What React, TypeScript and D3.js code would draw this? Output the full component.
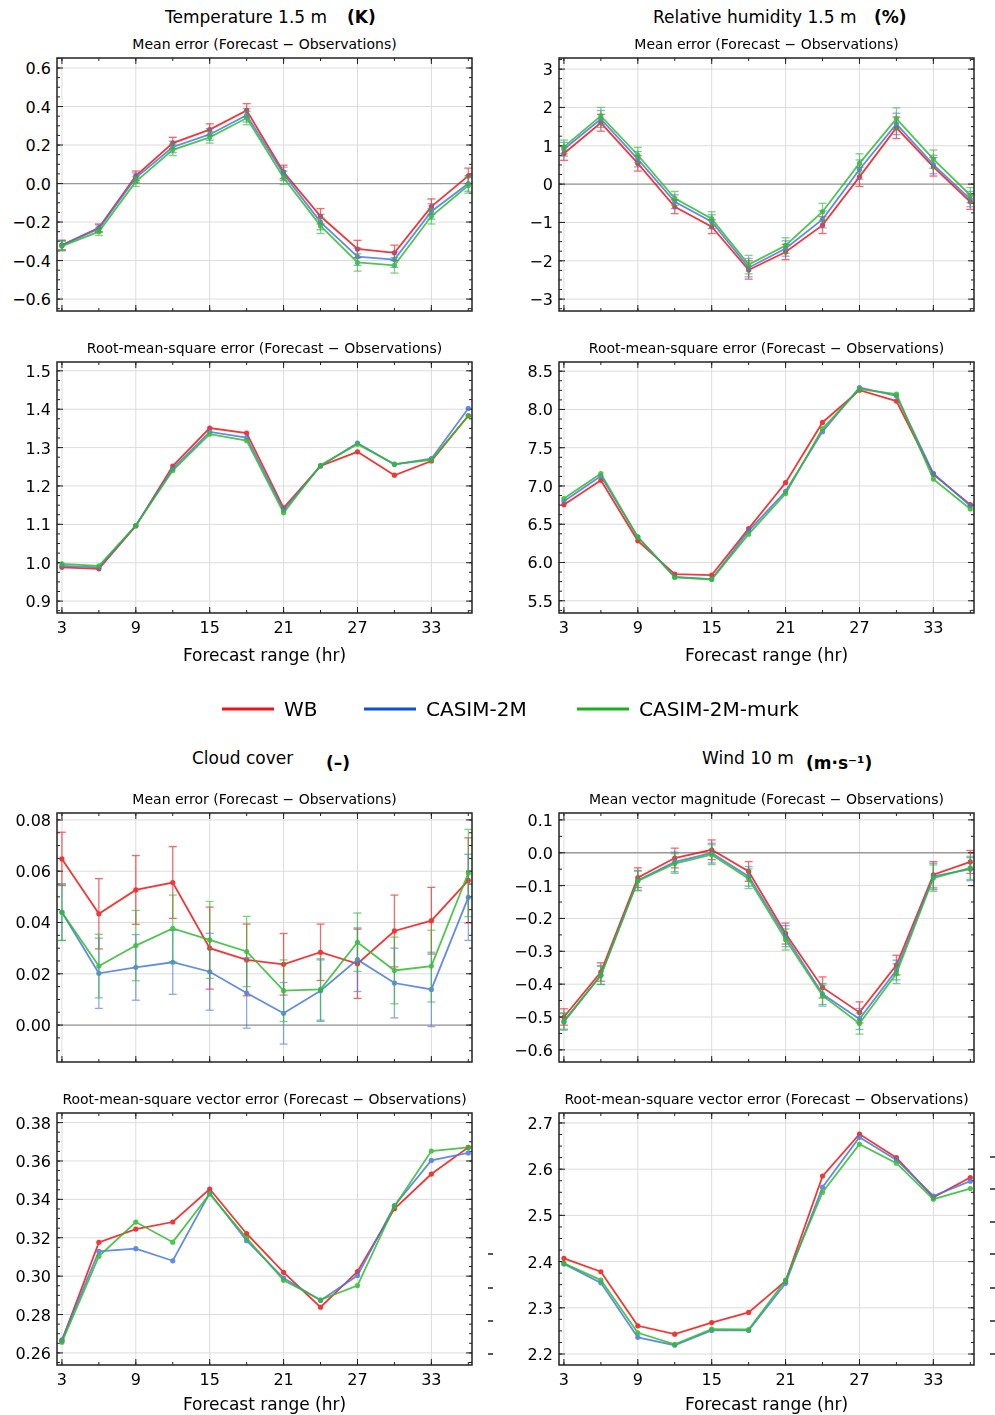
import * as d3 from "d3"

const hours = [3, 6, 9, 12, 15, 18, 21, 24, 27, 30, 33, 36]
const xTicks = [3, 9, 15, 21, 27, 33]
const seriesNames = ["WB", "CASIM-2M", "CASIM-2M-murk"]
const colors = ["#f01414", "#4878e0", "#30bb30"]
const legendColors = ["#f01414", "#0a50d8", "#18b018"]

// temperature mean error
const tMeWB = [-0.32, -0.23, 0.04, 0.21, 0.28, 0.38, 0.06, -0.17, -0.34, -0.36, -0.12, 0.04]
const tMeC = [-0.32, -0.235, 0.03, 0.19, 0.255, 0.355, 0.05, -0.2, -0.38, -0.395, -0.145, 0.0]
const tMeM = [-0.325, -0.25, 0.01, 0.175, 0.24, 0.34, 0.03, -0.22, -0.41, -0.425, -0.17, -0.01]
const tMeErr = [0.025, 0.02, 0.025, 0.03, 0.03, 0.035, 0.035, 0.04, 0.045, 0.04, 0.04, 0.04]

// relative humidity mean error
const rMeWB = [0.8, 1.6, 0.54, -0.59, -1.11, -2.24, -1.77, -1.07, 0.19, 1.47, 0.45, -0.46]
const rMeC = [0.91, 1.7, 0.65, -0.46, -0.98, -2.18, -1.68, -0.92, 0.38, 1.57, 0.51, -0.39]
const rMeM = [0.97, 1.78, 0.76, -0.37, -0.9, -2.1, -1.6, -0.72, 0.54, 1.71, 0.65, -0.29]
const rMeErr = [0.18, 0.22, 0.2, 0.18, 0.18, 0.24, 0.2, 0.22, 0.25, 0.28, 0.24, 0.2]

// temperature rmse
const tRmWB = [0.988, 0.984, 1.096, 1.252, 1.351, 1.338, 1.143, 1.252, 1.289, 1.228, 1.265, 1.383]
const tRmC = [0.992, 0.988, 1.097, 1.245, 1.341, 1.326, 1.137, 1.252, 1.312, 1.256, 1.271, 1.402]
const tRmM = [0.997, 0.992, 1.097, 1.24, 1.335, 1.318, 1.13, 1.254, 1.309, 1.257, 1.268, 1.383]

// relative humidity rmse
const rRmWB = [6.756, 7.074, 6.283, 5.848, 5.835, 6.443, 7.043, 7.83, 8.252, 8.109, 7.152, 6.756]
const rRmC = [6.8, 7.13, 6.335, 5.813, 5.783, 6.413, 6.93, 7.71, 8.287, 8.178, 7.165, 6.74]
const rRmM = [6.835, 7.163, 6.33, 5.804, 5.778, 6.37, 6.9, 7.75, 8.265, 8.2, 7.09, 6.7]

// cloud cover mean error
const cMeWB = [0.0648, 0.0434, 0.0527, 0.0556, 0.03, 0.0254, 0.0237, 0.0284, 0.0239, 0.0367, 0.0407, 0.0564]
const cMeC = [0.044, 0.0202, 0.0225, 0.0245, 0.0208, 0.0125, 0.0046, 0.0134, 0.0255, 0.0164, 0.0139, 0.0498]
const cMeM = [0.044, 0.023, 0.031, 0.0377, 0.0332, 0.0287, 0.0134, 0.0139, 0.0323, 0.0213, 0.023, 0.0593]
const cErrWB = [0.0104, 0.0137, 0.0134, 0.014, 0.016, 0.014, 0.012, 0.011, 0.0135, 0.014, 0.013, 0.0166]
const cErrC = [0.011, 0.0137, 0.0128, 0.0125, 0.015, 0.0137, 0.012, 0.012, 0.0124, 0.0136, 0.0145, 0.0168]
const cErrM = [0.011, 0.0124, 0.0137, 0.013, 0.015, 0.0137, 0.012, 0.012, 0.0114, 0.013, 0.014, 0.017]

// wind mean vector magnitude error
const wMeWB = [-0.5, -0.363, -0.076, -0.016, 0.009, -0.057, -0.246, -0.41, -0.486, -0.342, -0.067, -0.028]
const wMeC = [-0.515, -0.373, -0.084, -0.028, -0.001, -0.072, -0.254, -0.43, -0.506, -0.357, -0.072, -0.05]
const wMeM = [-0.512, -0.373, -0.086, -0.033, -0.006, -0.079, -0.264, -0.435, -0.52, -0.368, -0.077, -0.046]
const wMeErr = [0.025, 0.028, 0.03, 0.03, 0.03, 0.03, 0.032, 0.032, 0.032, 0.03, 0.04, 0.035]

// cloud cover rms vector error
const cRmWB = [0.2664, 0.3176, 0.3245, 0.3282, 0.3454, 0.3221, 0.302, 0.2838, 0.3024, 0.3351, 0.3532, 0.3671]
const cRmC = [0.2668, 0.3129, 0.3143, 0.308, 0.3433, 0.3185, 0.299, 0.2873, 0.3003, 0.3367, 0.3603, 0.3642]
const cRmM = [0.2656, 0.3103, 0.3282, 0.3177, 0.3428, 0.3198, 0.2978, 0.2877, 0.2951, 0.3363, 0.3652, 0.3671]

// wind rms vector error
const wRmWB = [2.407, 2.378, 2.261, 2.243, 2.268, 2.29, 2.358, 2.585, 2.676, 2.625, 2.539, 2.582]
const wRmC = [2.395, 2.354, 2.236, 2.219, 2.251, 2.251, 2.353, 2.561, 2.669, 2.62, 2.542, 2.574]
const wRmM = [2.396, 2.36, 2.246, 2.221, 2.254, 2.253, 2.36, 2.55, 2.654, 2.613, 2.535, 2.558]

const FONT = "DejaVu Sans, sans-serif"

interface PanelProps {
  left: number
  top: number
  width: number
  height: number
  yDomain: [number, number]
  yTicks: number[]
  minor: number
  decimals: number
  values: number[][]
  errors?: number[][]
  subtitle: string
  zeroLine?: boolean
  xLabels?: boolean
  labelOffset?: number
}

function Panel(p: PanelProps) {
  const x = d3.scaleLinear().domain([2.6, 36.3]).range([p.left, p.left + p.width])
  const y = d3.scaleLinear().domain(p.yDomain).range([p.top + p.height, p.top])
  const line = d3
    .line<number>()
    .x((_, i) => x(hours[i]))
    .y((d) => y(d))
  const r = p.left + p.width
  const b = p.top + p.height
  const minorY = d3.range(Math.ceil(p.yDomain[0] / p.minor) * p.minor, p.yDomain[1], p.minor)
  const minorX = d3.range(3, 36.5, 3)
  return (
    <g fontFamily={FONT}>
      <text x={p.left + p.width / 2} y={p.top - 9} textAnchor="middle" fontSize={14}>
        {p.subtitle}
      </text>
      {xTicks.map((t) => (
        <line key={"gx" + t} x1={x(t)} x2={x(t)} y1={p.top} y2={b} stroke="#dcdcdc" strokeWidth={1} />
      ))}
      {p.yTicks.map((t) => (
        <line key={"gy" + t} x1={p.left} x2={r} y1={y(t)} y2={y(t)} stroke="#dcdcdc" strokeWidth={1} />
      ))}
      {p.zeroLine && <line x1={p.left} x2={r} y1={y(0)} y2={y(0)} stroke="#999" strokeWidth={1.3} />}
      {minorY.map((t, i) => (
        <g key={"my" + i}>
          <line x1={p.left} x2={p.left + 3} y1={y(t)} y2={y(t)} stroke="#222" />
          <line x1={r} x2={r - 3} y1={y(t)} y2={y(t)} stroke="#222" />
        </g>
      ))}
      {minorX.map((t) => (
        <g key={"mx" + t}>
          <line x1={x(t)} x2={x(t)} y1={b} y2={b - 3} stroke="#222" />
          <line x1={x(t)} x2={x(t)} y1={p.top} y2={p.top + 3} stroke="#222" />
        </g>
      ))}
      {p.yTicks.map((t) => (
        <g key={"ty" + t}>
          <line x1={p.left} x2={p.left + 6} y1={y(t)} y2={y(t)} stroke="#222" />
          <line x1={r} x2={r - 6} y1={y(t)} y2={y(t)} stroke="#222" />
          <text x={p.left - 6} y={y(t) + 6} textAnchor="end" fontSize={16}>
            {t < 0 ? "\u2212" + Math.abs(t).toFixed(p.decimals) : t.toFixed(p.decimals)}
          </text>
        </g>
      ))}
      {xTicks.map((t) => (
        <g key={"tx" + t}>
          <line x1={x(t)} x2={x(t)} y1={b} y2={b - 6} stroke="#222" />
          <line x1={x(t)} x2={x(t)} y1={p.top} y2={p.top + 6} stroke="#222" />
          {p.xLabels && (
            <text x={x(t)} y={b + 20} textAnchor="middle" fontSize={16}>
              {t}
            </text>
          )}
        </g>
      ))}
      {p.xLabels && (
        <text x={p.left + p.width / 2} y={b + (p.labelOffset ?? 48)} textAnchor="middle" fontSize={17}>
          Forecast range (hr)
        </text>
      )}
      {p.values.map((vals, si) => (
        <g key={"s" + si} stroke={colors[si]} fill={colors[si]} opacity={0.85}>
          {p.errors &&
            vals.map((v, i) => {
              const e = p.errors![si][i]
              const cx = x(hours[i])
              return (
                <g key={i} strokeWidth={1.3} opacity={0.75}>
                  <line x1={cx} x2={cx} y1={y(v - e)} y2={y(v + e)} />
                  <line x1={cx - 4} x2={cx + 4} y1={y(v - e)} y2={y(v - e)} />
                  <line x1={cx - 4} x2={cx + 4} y1={y(v + e)} y2={y(v + e)} />
                </g>
              )
            })}
          <path d={line(vals) ?? ""} fill="none" strokeWidth={1.8} />
          {vals.map((v, i) => (
            <circle key={i} cx={x(hours[i])} cy={y(v)} r={2.6} stroke="none" />
          ))}
        </g>
      ))}
      <rect x={p.left} y={p.top} width={p.width} height={p.height} fill="none" stroke="#222" strokeWidth={1.5} />
    </g>
  )
}

function Title({ x, y, name, unit, ux, uy }: { x: number; y: number; name: string; unit: string; ux: number; uy: number }) {
  return (
    <g fontFamily={FONT} fontSize={17}>
      <text x={x} y={y}>{name}</text>
      <text x={ux} y={uy} fontWeight="bold">{unit}</text>
    </g>
  )
}

export default function App() {
  const L = 57
  const R = 559
  const W = 415
  const dashesL = [1254, 1288, 1321, 1354]
  const dashesR = [1157, 1189, 1222, 1254, 1288, 1321, 1354]
  return (
    <svg width={995} height={1415} style={{ position: "absolute", left: 0, top: 0, background: "#fff" }}>
      <Title x={165} y={23} name="Temperature 1.5 m" unit="(K)" ux={347} uy={23} />
      <Title x={653} y={23} name="Relative humidity 1.5 m" unit="(%)" ux={874} uy={23} />
      <Title x={192} y={764} name="Cloud cover" unit="(–)" ux={326} uy={769} />
      <Title x={702} y={764} name="Wind 10 m" unit="(m·s⁻¹)" ux={806} uy={769} />

      <Panel left={L} top={58} width={W} height={253} yDomain={[-0.662, 0.652]} yTicks={[-0.6, -0.4, -0.2, 0, 0.2, 0.4, 0.6]} minor={0.05} decimals={1}
        values={[tMeWB, tMeC, tMeM]} errors={[tMeErr, tMeErr, tMeErr]} subtitle="Mean error (Forecast − Observations)" zeroLine />
      <Panel left={R} top={58} width={W} height={253} yDomain={[-3.31, 3.29]} yTicks={[-3, -2, -1, 0, 1, 2, 3]} minor={0.25} decimals={0}
        values={[rMeWB, rMeC, rMeM]} errors={[rMeErr, rMeErr, rMeErr]} subtitle="Mean error (Forecast − Observations)" zeroLine />
      <Panel left={L} top={362} width={W} height={251} yDomain={[0.869, 1.523]} yTicks={[0.9, 1.0, 1.1, 1.2, 1.3, 1.4, 1.5]} minor={0.025} decimals={1}
        values={[tRmWB, tRmC, tRmM]} subtitle="Root-mean-square error (Forecast − Observations)" xLabels />
      <Panel left={R} top={362} width={W} height={251} yDomain={[5.34, 8.62]} yTicks={[5.5, 6, 6.5, 7, 7.5, 8, 8.5]} minor={0.125} decimals={1}
        values={[rRmWB, rRmC, rRmM]} subtitle="Root-mean-square error (Forecast − Observations)" xLabels />

      <g fontFamily={FONT} fontSize={20}>
        {seriesNames.map((n, i) => {
          const xs = [222, 364, 577][i]
          return (
            <g key={n}>
              <line x1={xs} x2={xs + 52} y1={709} y2={709} stroke={legendColors[i]} strokeWidth={3} />
              <text x={xs + 62} y={716}>{n}</text>
            </g>
          )
        })}
      </g>

      <Panel left={L} top={813} width={W} height={249} yDomain={[-0.0144, 0.0827]} yTicks={[0, 0.02, 0.04, 0.06, 0.08]} minor={0.005} decimals={2}
        values={[cMeWB, cMeC, cMeM]} errors={[cErrWB, cErrC, cErrM]} subtitle="Mean error (Forecast − Observations)" zeroLine />
      <Panel left={R} top={813} width={W} height={249} yDomain={[-0.637, 0.121]} yTicks={[-0.6, -0.5, -0.4, -0.3, -0.2, -0.1, 0, 0.1]} minor={0.05} decimals={1}
        values={[wMeWB, wMeC, wMeM]} errors={[wMeErr, wMeErr, wMeErr]} subtitle="Mean vector magnitude (Forecast − Observations)" zeroLine />
      <Panel left={L} top={1113} width={W} height={252} yDomain={[0.2537, 0.385]} yTicks={[0.26, 0.28, 0.3, 0.32, 0.34, 0.36, 0.38]} minor={0.005} decimals={2}
        values={[cRmWB, cRmC, cRmM]} subtitle="Root-mean-square vector error (Forecast − Observations)" xLabels labelOffset={45} />
      <Panel left={R} top={1113} width={W} height={252} yDomain={[2.1762, 2.7216]} yTicks={[2.2, 2.3, 2.4, 2.5, 2.6, 2.7]} minor={0.025} decimals={1}
        values={[wRmWB, wRmC, wRmM]} subtitle="Root-mean-square vector error (Forecast − Observations)" xLabels labelOffset={45} />

      {dashesL.map((d) => (
        <line key={"dl" + d} x1={488} x2={493} y1={d} y2={d} stroke="#222" strokeWidth={1.5} />
      ))}
      {dashesR.map((d) => (
        <line key={"dr" + d} x1={990} x2={995} y1={d} y2={d} stroke="#222" strokeWidth={1.5} />
      ))}
    </svg>
  )
}
